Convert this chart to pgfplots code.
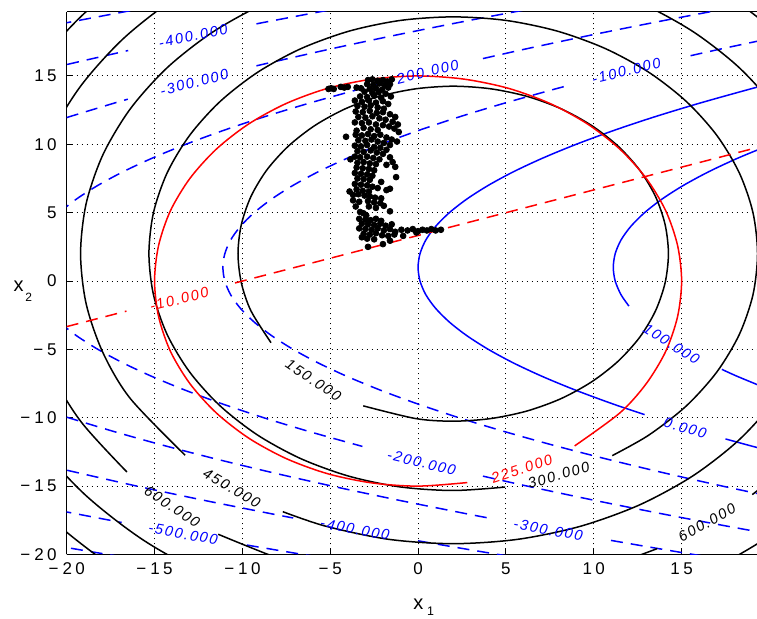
\documentclass[border=0pt]{standalone}
\usepackage{fontspec}
\setmainfont{Liberation Sans}
\usepackage{pgfplots}
\pgfplotsset{compat=1.18}
\newfontfamily\tickfont[LetterSpace=20]{Liberation Sans}
\newfontfamily\clabfont[LetterSpace=12]{Liberation Sans}
\pgfplotsset{
  bl/.style={blue, line width=0.75pt, smooth, no marks},
  bld/.style={blue, line width=0.75pt, smooth, no marks, dash pattern=on 6pt off 4pt},
  bk/.style={black, line width=0.75pt, smooth, no marks},
  rd/.style={red, line width=0.75pt, smooth, no marks},
  rdd/.style={red, line width=0.75pt, no marks, dash pattern=on 6pt off 4pt},
}
\tikzset{clab/.style={font=\clabfont\itshape\fontsize{7.3}{8}\selectfont, inner sep=0pt, anchor=center}}
\begin{document}
\begin{tikzpicture}
\begin{axis}[
  at={(0pt,0pt)}, anchor=south west,
  scale only axis, width=345.15pt, height=271.4pt,
  xmin=-20, xmax=19.29, ymin=-20, ymax=19.7,
  enlargelimits=false,
  axis x line*=box, axis y line*=left,
  axis line style={-, black, line width=0.6pt},
  xtick={-20,-15,-10,-5,0,5,10,15},
  ytick={-20,-15,-10,-5,0,5,10,15},
  xticklabels={−\hspace{2pt}20,−\hspace{2pt}15,−\hspace{2pt}10,−\hspace{2pt}5,0,5,10,15},
  yticklabels={−\hspace{2pt}20,−\hspace{2pt}15,−\hspace{2pt}10,−\hspace{2pt}5,0,5,10,15},
  tick pos=left, tick align=inside, major tick length=3pt,
  tick style={black, line width=0.5pt},
  grid=major, grid style={black, line width=0.5pt, dash pattern=on 0.5pt off 2pt},
  ticklabel style={font=\tickfont\fontsize{8.5}{10}\selectfont},
  yticklabel style={xshift=-1.5pt},
  xticklabel style={yshift=-0.5pt},
]
% ---------- blue family (dashed negative, solid non-negative)
% -600
\addplot[bld] coordinates {(-20.88,-19.3) (-17.67,-20) (-15.31,-20.5)};
% -500
\addplot[bld] coordinates {(-21.53,-16.5) (-19.56,-17) (-16.87,-17.66)};
\addplot[bld] coordinates {(-9.75,-19.31) (-6.56,-20) (-4.2,-20.5)};
\addplot[bld] coordinates {(-21.53,18.5) (-19.56,19) (-15.45,20)};
% -400
\addplot[bld] coordinates {(-21.08,-13.5) (-19.44,-14) (-16.0,-15) (-12.33,-16) (-8.44,-17) (-7.11,-17.33)};
\addplot[bld] coordinates {(0,-19) (2.25,-19.5) (4.56,-20) (6.92,-20.5)};
\addplot[bld] coordinates {(-21.08,15.5) (-19.44,16) (-16.5,16.86)};
\addplot[bld] coordinates {(-9.2,18.81) (-8.44,19) (-4.33,20)};
% -300
\addplot[bld] coordinates {(-21.08,-9.5) (-19.89,-10) (-17.33,-11) (-14.55,-12) (-11.55,-13) (-8.33,-14) (-4.89,-15) (-1.22,-16) (2.67,-17) (4.0,-17.33)};
\addplot[bld] coordinates {(10.98,-18.97) (13.36,-19.5) (15.67,-20) (18.03,-20.5)};
\addplot[bld] coordinates {(-21.08,11.5) (-19.89,12) (-17.33,13) (-16.52,13.3)};
\addplot[bld] coordinates {(-9.2,15.74) (-8.33,16) (-4.89,17) (-1.22,18) (2.67,19) (6.78,20)};
% -200
\addplot[bld] coordinates {(-20.44,-3) (-19.44,-4) (-18.22,-5) (-16.78,-6) (-15.11,-7) (-13.22,-8) (-11.11,-9) (-8.78,-10) (-6.22,-11) (-3.44,-12) (-3.21,-12.08)};
\addplot[bld] coordinates {(3.69,-14.27) (6.22,-15) (9.89,-16) (13.78,-17) (17.89,-18) (22.22,-19)};
\addplot[bld] coordinates {(-20.44,5) (-19.44,6) (-18.22,7) (-16.78,8) (-15.11,9) (-13.22,10) (-11.11,11) (-8.78,12) (-6.22,13) (-3.44,14) (-1.67,14.6)};
\addplot[bld] coordinates {(3.69,16.27) (6.22,17) (9.89,18) (13.78,19) (17.89,20)};
% -100
\addplot[bld] coordinates {(21.0,-16) (17.33,-15) (13.89,-14) (10.67,-13) (7.67,-12) (4.89,-11) (2.33,-10) (0,-9) (-2.11,-8) (-4.0,-7) (-5.67,-6) (-7.11,-5) (-8.33,-4) (-9.33,-3) (-10.11,-2) (-10.67,-1) (-11.0,0) (-11.11,1) (-11.0,2) (-10.67,3) (-10.11,4) (-9.33,5) (-8.33,6) (-7.11,7) (-5.67,8) (-4.0,9) (-2.11,10) (0,11) (2.33,12) (4.89,13) (7.67,14) (8.40,14.25)};
\addplot[bld] coordinates {(15.51,16.48) (17.33,17) (21.0,18)};
% 0
\addplot[bl] coordinates {(20.25,-12.5) (18.78,-12) (17.5,-11.55)};
\addplot[bl] coordinates {(12.89,-9.77) (11.11,-9) (9,-8) (7.11,-7) (5.44,-6) (4,-5) (2.78,-4) (1.78,-3) (1,-2) (0.44,-1) (0.11,0) (0,1) (0.11,2) (0.44,3) (1,4) (1.78,5) (2.78,6) (4,7) (5.44,8) (7.11,9) (9,10) (11.11,11) (13.44,12) (16,13) (18.78,14) (20.25,14.5)};
% 100
\addplot[bl] coordinates {(20.11,-8) (18.22,-7) (17.29,-6.46)};
\addplot[bl] coordinates {(12.0,-1.83) (11.55,-1) (11.22,0) (11.11,1) (11.22,2) (11.55,3) (12.11,4) (12.89,5) (13.89,6) (15.11,7) (16.55,8) (18.22,9) (20.11,10)};
% ---------- black family: circles about (2,2)
% 150
\addplot[bk] coordinates {(-3.12,-9.13) (-0.13,-10.06) (2,-10.25) (4.13,-10.06) (6.19,-9.51) (8.12,-8.61) (9.87,-7.38) (11.38,-5.87) (12.61,-4.12) (13.51,-2.19) (14.06,-0.13) (14.25,2) (14.06,4.13) (13.51,6.19) (12.61,8.12) (11.38,9.87) (9.87,11.38) (8.12,12.61) (6.19,13.51) (4.13,14.06) (2,14.25) (-0.13,14.06) (-2.19,13.51) (-4.12,12.61) (-5.87,11.38) (-7.38,9.87) (-8.61,8.12) (-9.51,6.19) (-10.06,4.13) (-10.25,2) (-10.06,-0.13) (-9.51,-2.19) (-8.37,-4.51)};
% 300
\addplot[bk] coordinates {(11.05,-12.77) (13.13,-11.27) (15.27,-9.13) (17.0,-6.66) (18.28,-3.92) (19.06,-1.01) (19.32,2) (19.06,5.01) (18.28,7.92) (17.0,10.66) (15.27,13.13) (13.13,15.27) (10.66,17.0) (7.92,18.28) (5.01,19.06) (2,19.32) (-1.01,19.06) (-3.92,18.28) (-6.66,17.0) (-9.13,15.27) (-11.27,13.13) (-13.0,10.66) (-14.28,7.92) (-15.06,5.01) (-15.32,2) (-15.06,-1.01) (-14.28,-3.92) (-13.0,-6.66) (-11.27,-9.13) (-9.13,-11.27) (-6.66,-13.0) (-3.92,-14.28) (-1.01,-15.06) (2,-15.32) (4.95,-15.07)};
% 450
\addplot[bk] coordinates {(-7.70,-16.87) (-5.26,-17.93) (-1.68,-18.89) (2,-19.21) (5.68,-18.89) (9.26,-17.93) (12.61,-16.37) (15.64,-14.25) (18.25,-11.64) (20.37,-8.61) (21.93,-5.26) (22.89,-1.68) (23.21,2) (22.89,5.68) (21.93,9.26) (20.37,12.61) (18.25,15.64) (15.64,18.25) (12.61,20.37) (9.26,21.93) (5.68,22.89) (2,23.21) (-1.68,22.89) (-5.26,21.93) (-8.61,20.37) (-11.64,18.25) (-14.25,15.64) (-16.37,12.61) (-17.93,9.26) (-18.89,5.68) (-19.21,2) (-18.89,-1.68) (-17.93,-5.26) (-16.37,-8.61) (-13.26,-12.74)};
% 600
\addplot[bk] coordinates {(19.02,-15.62) (20.76,-13.75) (23.21,-10.25) (25.02,-6.38) (26.12,-2.25) (26.50,2) (26.12,6.25) (25.02,10.38) (23.21,14.25) (20.76,17.75) (17.75,20.76) (14.25,23.21) (10.38,25.02) (6.25,26.12) (2,26.50) (-2.25,26.12) (-6.38,25.02) (-10.25,23.21) (-13.75,20.76) (-16.76,17.75) (-19.21,14.25) (-21.02,10.38) (-22.12,6.25) (-22.50,2) (-22.12,-2.25) (-21.02,-6.38) (-19.21,-10.25) (-16.57,-13.97)};
\addplot[bk] coordinates {(-11.38,-18.52) (-6.38,-21.02) (-2.25,-22.12) (2,-22.50) (6.25,-22.12) (10.38,-21.02) (13.61,-19.57)};
% 750
\addplot[bk] coordinates {(-7.37,27.74) (-11.69,25.72) (-15.60,22.98) (-18.98,19.60) (-21.72,15.69) (-23.74,11.37)};
\addplot[bk] coordinates {(-24.97,-2.75) (-23.74,-7.37) (-21.72,-11.69) (-18.98,-15.60) (-15.60,-18.98) (-11.69,-21.72) (-7.37,-23.74)};
\addplot[bk] coordinates {(11.37,-23.74) (15.69,-21.72) (19.60,-18.98) (22.98,-15.60) (25.72,-11.69)};
% 900
\addplot[bk] coordinates {(-26.19,-8.26) (-23.98,-13.0) (-20.98,-17.28) (-17.28,-20.98) (-13.0,-23.98) (-8.26,-26.19)};
% ---------- red family
\addplot[rd] coordinates {(8.91,-12.06) (11.49,-9.64) (12.99,-7.5) (14.10,-5.13) (14.77,-2.60) (15,0) (14.77,2.60) (14.10,5.13) (12.99,7.5) (11.49,9.64) (9.64,11.49) (7.5,12.99) (5.13,14.10) (2.60,14.77) (0,15) (-2.60,14.77) (-5.13,14.10) (-7.5,12.99) (-9.64,11.49) (-11.49,9.64) (-12.99,7.5) (-14.10,5.13) (-14.77,2.60) (-15,0) (-14.77,-2.60) (-14.10,-5.13) (-12.99,-7.5) (-11.49,-9.64) (-9.64,-11.49) (-7.5,-12.99) (-5.13,-14.10) (-2.60,-14.77) (0,-15) (2.80,-14.74)};
\addplot[rdd] coordinates {(-20,-3.333) (-16.6,-2.2)};
\addplot[rdd] coordinates {(-10.42,-0.14) (19.5,9.83)};
% ---------- sample points
\addplot[only marks, mark=*, mark size=1.45pt, black] coordinates {
(-5.1,14.05) (-4.95,14.1) (-4.8,14.05) (-4.4,14.2) (-4.2,14.15) (-4.0,14.2) (-3.25,14.1) (-3.5,14.15)
(-2.85,14.7) (-2.6,14.75) (-2.3,14.65) (-2.0,14.7) (-1.75,14.6) (-1.5,14.75) (-2.9,14.4) (-2.55,14.35)
(-2.2,14.45) (-1.9,14.3) (-1.6,14.4) (-2.75,14.05) (-2.4,14.1) (-2.05,14.0) (-1.7,14.15) (-3.05,13.85)
(-2.6,13.75) (-2.25,13.8) (-1.85,13.7) (-3.3,13.5) (-2.9,13.45) (-2.5,13.55) (-2.1,13.4) (-1.55,13.5)
(-3.6,13.2) (-3.2,13.1) (-2.8,13.2) (-2.4,13.05) (-2.0,13.15) (-1.7,12.95) (-3.45,12.8) (-3.05,12.75)
(-2.7,12.85) (-2.3,12.7) (-1.95,12.6) (-3.55,12.4) (-3.15,12.35) (-2.75,12.45) (-2.35,12.3) (-2.0,12.35)
(-1.6,12.2) (-1.3,12.0) (-3.4,12.0) (-3.0,11.95) (-2.6,12.05) (-2.2,11.9) (-1.85,11.8) (-1.45,11.65)
(-1.15,11.45) (-3.6,11.6) (-3.2,11.55) (-2.8,11.6) (-2.4,11.45) (-2.0,11.4) (-1.65,11.3) (-1.35,11.15)
(-3.1,11.2) (-2.7,11.1) (-2.3,11.05) (-3.5,11.0) (-4.1,10.55) (-1.1,10.9) (-1.2,10.2)
(-3.55,10.7) (-3.2,10.65) (-2.85,10.75) (-2.5,10.6) (-2.15,10.7) (-1.8,10.5) (-1.5,10.35) (-3.4,10.3)
(-3.0,10.25) (-2.65,10.35) (-2.3,10.2) (-1.95,10.1) (-1.6,9.95) (-3.6,9.9) (-3.25,9.85) (-2.9,9.95)
(-2.5,9.8) (-2.15,9.75) (-1.8,9.6) (-3.45,9.5) (-3.1,9.45) (-2.7,9.55) (-2.35,9.4) (-2.0,9.3)
(-1.6,9.05) (-1.45,8.7) (-1.8,8.5) (-3.6,9.1) (-3.3,9.05) (-2.9,9.1) (-2.55,9.0) (-2.2,8.9)
(-3.45,8.65) (-3.1,8.7) (-2.75,8.6) (-2.4,8.55) (-3.85,8.9) (-1.3,8.35)
(-3.5,8.3) (-3.15,8.25) (-2.8,8.2) (-2.5,8.1) (-3.6,7.9) (-3.25,7.85) (-2.9,7.8) (-2.6,7.7)
(-3.45,7.5) (-3.1,7.45) (-2.75,7.4) (-3.6,7.1) (-3.25,7.05) (-2.9,7.0) (-2.6,6.9) (-2.1,7.25)
(-1.6,6.75) (-1.25,7.6) (-2.3,6.8) (-1.8,6.65) (-3.5,6.7) (-3.15,6.6) (-2.8,6.55) (-3.9,6.55)
(-3.7,6.3) (-3.4,6.35) (-3.05,6.25) (-2.75,6.2) (-2.45,6.1) (-2.1,6.05) (-3.7,5.9) (-3.35,5.8)
(-2.85,5.85) (-2.5,5.75) (-2.15,5.7) (-1.95,5.5) (-3.55,5.45) (-2.8,5.45) (-2.4,5.35) (-3.3,5.05)
(-2.95,4.8) (-3.1,4.95) (-1.6,5.1)
(-3.35,4.55) (-3.0,4.5) (-2.7,4.45) (-2.4,4.55) (-2.1,4.4) (-3.2,4.2) (-2.85,4.15) (-2.5,4.1)
(-2.15,4.2) (-1.85,4.05) (-1.5,4.15) (-3.35,3.85) (-3.0,3.8) (-2.65,3.75) (-2.3,3.85) (-1.95,3.7)
(-1.6,3.8) (-1.3,3.6) (-0.95,3.75) (-3.1,3.45) (-2.75,3.4) (-2.4,3.5) (-2.05,3.35) (-1.7,3.3)
(-1.35,3.4) (-0.85,3.3) (-2.9,3.1) (-2.5,3.05) (-3.2,3.2)
(-0.6,3.7) (-0.3,3.8) (0.0,3.65) (0.25,3.75) (0.5,3.7) (0.75,3.8) (1.0,3.7) (1.3,3.75) (-0.1,3.55)
(-2.85,2.5) (-2.0,2.7) (-1.6,2.95)
};
% ---------- contour labels
\node[clab, text=blue, rotate=11.7] at (axis cs:-12.8,17.92) {-400.000};
\node[clab, text=blue, rotate=14.4] at (axis cs:-12.74,14.52) {-300.000};
\node[clab, text=blue, rotate=13.8] at (axis cs:0.36,15.25) {-200.000};
\node[clab, text=blue, rotate=13.6] at (axis cs:11.85,15.36) {-100.000};
\node[clab, text=blue, rotate=-32.7] at (axis cs:14.42,-4.6) {100.000};
\node[clab, text=blue, rotate=-16.5] at (axis cs:15.2,-10.75) {0.000};
\node[clab, text=blue, rotate=-13.8] at (axis cs:0.2,-13.28) {-200.000};
\node[clab, text=blue, rotate=-10.3] at (axis cs:7.4,-18.2) {-300.000};
\node[clab, text=blue, rotate=-10.2] at (axis cs:-3.6,-18.15) {-400.000};
\node[clab, text=blue, rotate=-10.2] at (axis cs:-13.37,-18.5) {-500.000};
\node[clab, text=black, rotate=-33.9] at (axis cs:-5.96,-7.24) {150.000};
\node[clab, text=black, rotate=-29.9] at (axis cs:-10.6,-15.14) {450.000};
\node[clab, text=black, rotate=-34] at (axis cs:-14.0,-16.5) {600.000};
\node[clab, text=black, rotate=16] at (axis cs:8.0,-14.2) {300.000};
\node[clab, text=black, rotate=29.7] at (axis cs:16.44,-17.67) {600.000};
\node[clab, text=red, rotate=18.4] at (axis cs:5.9,-13.75) {225.000};
\node[clab, text=red, rotate=14.5] at (axis cs:-13.6,-1.33) {-10.000};
\end{axis}
\node[anchor=base west, inner sep=0pt] at (173.15pt,-27.75pt) {\fontsize{10}{12}\selectfont x\kern1.8pt\raisebox{-3pt}{\fontsize{6.2}{7}\selectfont 1}};
\node[anchor=base west, inner sep=0pt] at (-26.7pt,131.4pt) {\fontsize{10}{12}\selectfont x\kern0.8pt\raisebox{-5pt}{\fontsize{6}{7}\selectfont 2}};
\pgfresetboundingbox
\path[use as bounding box] (-33.35pt,-32.25pt) rectangle (345.15pt,277.25pt);
\end{tikzpicture}
\end{document}
